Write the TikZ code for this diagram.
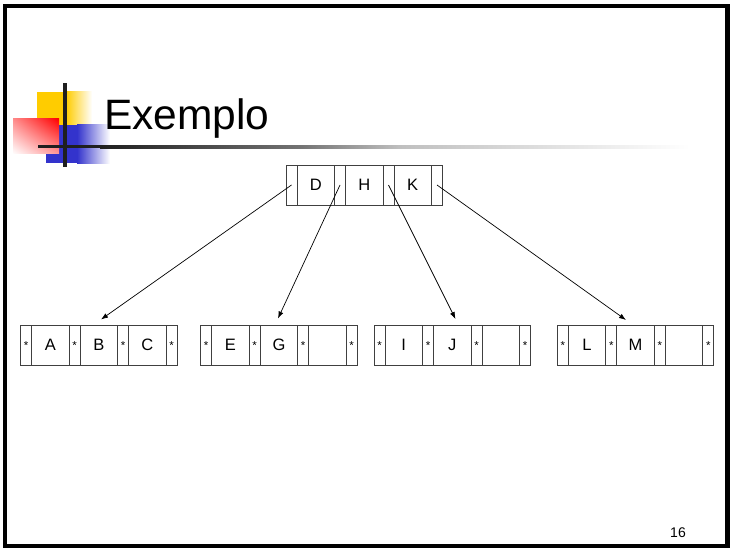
\documentclass[tikz,border=0pt]{standalone}
\usepackage{fontspec}
\setmainfont{Liberation Sans}
\usetikzlibrary{arrows.meta,shadings}
\definecolor{logoyellow}{HTML}{FFCC00}
\definecolor{logoblue}{HTML}{3333CC}
\definecolor{logored}{HTML}{FF0000}
\definecolor{cellline}{HTML}{404040}

% One B-tree page: 4 pointer cells interleaved with 3 key cells.
% #1 name prefix, #2/#3 top-left corner, #4 pointer text, #5-#7 keys
\newcommand{\btpage}[7]{%
  \node[ptrcell, anchor=north west] (#1p0) at (#2,#3) {#4};
  \node[keycell, anchor=west] (#1k1) at (#1p0.east) {#5};
  \node[ptrcell, anchor=west] (#1p1) at (#1k1.east) {#4};
  \node[keycell, anchor=west] (#1k2) at (#1p1.east) {#6};
  \node[ptrcell, anchor=west] (#1p2) at (#1k2.east) {#4};
  \node[keycell, anchor=west] (#1k3) at (#1p2.east) {#7};
  \node[ptrcell, anchor=west] (#1p3) at (#1k3.east) {#4};
}

\begin{document}
\begin{tikzpicture}[x=1pt,y=-1pt,
  cellbase/.style={draw=cellline, line width=0.8pt, inner sep=0pt, outer sep=0pt, minimum height=40pt},
  ptrcell/.style={cellbase, minimum width=11pt, font=\fontsize{11.5}{12}\selectfont, text height=8.3pt, text depth=-4.9pt},
  keycell/.style={cellbase, minimum width=37.5pt, font=\fontsize{16.5}{18}\selectfont, text height=11.8pt, text depth=0pt},
  link/.style={draw=black, line width=0.7pt, -{Latex[length=7pt,width=5pt]}},
]
\useasboundingbox (0,0) rectangle (732,551);
\fill[white] (0,0) rectangle (732,551);

% slide frame
\draw[line width=4.5pt] (5,6) rectangle (727.5,546);

% title logo
\fill[logoyellow] (37,92) rectangle (66,125);
\shade[left color=logoyellow, right color=white] (66,92) rectangle (92,125);
\fill[logoblue] (46,125) rectangle (77,163);
\shade[left color=logoblue, right color=white] (77,125) rectangle (110,163);
\shade[upper right=logored, lower left=white, upper left=logored!45!white, lower right=logored!40!white] (13,119) rectangle (59,154);
\fill[black!88] (63.3,83) rectangle (66.8,167);

% title rule, fading to the right
\fill[black!88] (38,145.5) rectangle (100,148.5);
\shade[left color=black!88, right color=black!55] (100,145.5) rectangle (300,148.5);
\shade[left color=black!55, right color=black!25] (300,145.5) rectangle (400,148.5);
\shade[left color=black!25, right color=white] (400,145.5) rectangle (690,148.5);

\node[anchor=base west, font=\fontsize{42.5}{48}\selectfont, inner sep=0pt] (title) at (104,130) {Exemplo};

% root page and leaves
\btpage{t}{286}{165}{}{D}{H}{K}
\btpage{a}{20.7}{325}{*}{A}{B}{C}
\btpage{b}{200.7}{325}{*}{E}{G}{}
\btpage{c}{374}{325}{*}{I}{J}{}
\btpage{d}{557.3}{325}{*}{L}{M}{}

% arrow targets just above each leaf
\coordinate (inA) at (101,319.5);
\coordinate (inB) at (278,318.5);
\coordinate (inC) at (455.5,319);
\coordinate (inD) at (626,320);

\draw[link] (tp0.center) -- (inA);
\draw[link] (tp1.center) -- (inB);
\draw[link] (tp2.center) -- (inC);
\draw[link] (tp3.center) -- (inD);

\node[anchor=base east, font=\fontsize{14}{16}\selectfont, inner sep=0pt] (pageno) at (686,537.3) {16};
\end{tikzpicture}
\end{document}
